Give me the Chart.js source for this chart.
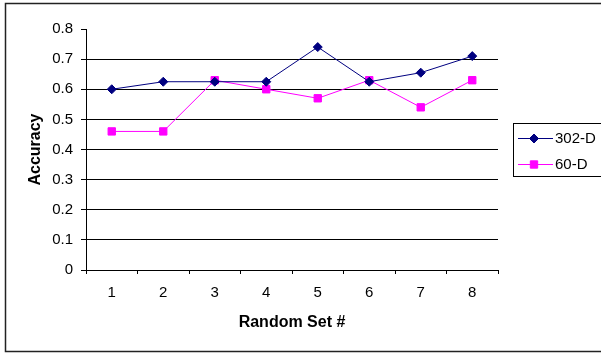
<!DOCTYPE html>
<html>
<head>
<meta charset="utf-8">
<title>Accuracy by Random Set</title>
<script src="https://cdn.jsdelivr.net/npm/chart.js@4/dist/chart.umd.min.js"></script>
<style>
  html, body { margin: 0; padding: 0; background: #fff; }
  #wrap { position: relative; width: 601px; height: 353px; }
</style>
</head>
<body>
<div id="wrap"><canvas id="chart" width="601" height="353"></canvas></div>
<script>
// Random set numbers along the x axis
const sets = ['1', '2', '3', '4', '5', '6', '7', '8'];
// Accuracy per random set for each feature dimension
const acc302D = [0.60, 0.625, 0.625, 0.625, 0.74, 0.625, 0.655, 0.71];
const acc60D  = [0.46, 0.46, 0.63, 0.60, 0.57, 0.63, 0.54, 0.63];
// Y axis range and step
const yMin = 0;
const yMax = 0.8;
const yStep = 0.1;

const FONT = "'Liberation Sans', Arial, sans-serif";

// Outer frame around the whole figure
const framePlugin = {
  id: 'frame',
  beforeDraw(chart) {
    const c = chart.ctx;
    c.save();
    c.fillStyle = '#fff';
    c.fillRect(0, 0, chart.width, chart.height);
    c.strokeStyle = '#222';
    c.lineWidth = 1.5;
    c.strokeRect(5.5, 3.5, chart.width, chart.height - 5);
    c.restore();
  }
};

// Boxed legend to the right of the plot, built from the datasets' own styles
const boxLegend = {
  id: 'boxLegend',
  afterDraw(chart) {
    const c = chart.ctx;
    const area = chart.chartArea;
    const x0 = area.right + 15;
    const y0 = 123;
    const rowH = 26;
    const dsets = chart.data.datasets;
    c.save();
    c.strokeStyle = '#000';
    c.lineWidth = 1;
    c.strokeRect(x0 + 0.5, y0 + 0.5, chart.width, rowH * dsets.length + 1);
    c.font = '15px ' + FONT;
    c.textBaseline = 'middle';
    dsets.forEach((ds, i) => {
      const cy = y0 + 15 + i * rowH;
      c.strokeStyle = ds.borderColor;
      c.lineWidth = 1;
      c.beginPath();
      c.moveTo(x0 + 5, cy + 0.5);
      c.lineTo(x0 + 40, cy + 0.5);
      c.stroke();
      c.fillStyle = ds.pointBackgroundColor;
      c.strokeStyle = ds.pointBorderColor;
      Chart.helpers.drawPoint(c, {
        pointStyle: ds.pointStyle,
        radius: ds.pointRadius,
        rotation: 0,
        borderWidth: 1
      }, x0 + 21, cy + 0.5);
      c.fillStyle = '#000';
      c.fillText(ds.label, x0 + 42, cy + 1);
    });
    c.restore();
  }
};

const chart = new Chart(document.getElementById('chart'), {
  type: 'line',
  data: {
    labels: sets,
    datasets: [
      {
        label: '302-D',
        data: acc302D,
        borderColor: '#000080',
        backgroundColor: '#000080',
        pointBackgroundColor: '#000080',
        pointBorderColor: '#000080',
        pointStyle: 'rectRot',
        pointRadius: 4.5,
        borderWidth: 1,
        tension: 0
      },
      {
        label: '60-D',
        data: acc60D,
        borderColor: '#FF00FF',
        backgroundColor: '#FF00FF',
        pointBackgroundColor: '#FF00FF',
        pointBorderColor: '#FF00FF',
        pointStyle: 'rect',
        pointRadius: 5.2,
        borderWidth: 1,
        tension: 0
      }
    ]
  },
  options: {
    responsive: false,
    animation: false,
    devicePixelRatio: 1,
    layout: { padding: { left: 0, right: 103, top: 29, bottom: 0 } },
    plugins: {
      legend: { display: false },
      tooltip: { enabled: false }
    },
    scales: {
      x: {
        type: 'category',
        offset: true,
        afterFit(scale) { scale.height = 83; },
        grid: {
          offset: true,
          drawOnChartArea: false,
          color: '#000',
          tickLength: 4,
          lineWidth: 1
        },
        border: { display: true, color: '#000', width: 1 },
        ticks: {
          color: '#000',
          padding: 10,
          maxRotation: 0,
          font: { family: FONT, size: 15 }
        },
        title: {
          display: true,
          text: 'Random Set #',
          color: '#000',
          font: { family: FONT, size: 16, weight: 'bold' },
          padding: { top: 0, bottom: 21 }
        }
      },
      y: {
        min: yMin,
        max: yMax,
        afterFit(scale) { scale.width = 86; },
        grid: {
          color: (ctx) => (ctx.tick && Math.abs(ctx.tick.value - yMax) < 1e-9) ? 'rgba(0,0,0,0)' : '#000',
          tickColor: '#000',
          tickLength: 5,
          lineWidth: 1
        },
        border: { display: true, color: '#000', width: 1 },
        ticks: {
          stepSize: yStep,
          color: '#000',
          padding: 8,
          font: { family: FONT, size: 15 },
          callback: (v) => String(Number(v.toFixed(1)))
        },
        title: {
          display: true,
          text: 'Accuracy',
          color: '#000',
          font: { family: FONT, size: 16, weight: 'bold' },
          padding: { top: 26, bottom: 0 }
        }
      }
    }
  },
  plugins: [framePlugin, boxLegend]
});
</script>
</body>
</html>
